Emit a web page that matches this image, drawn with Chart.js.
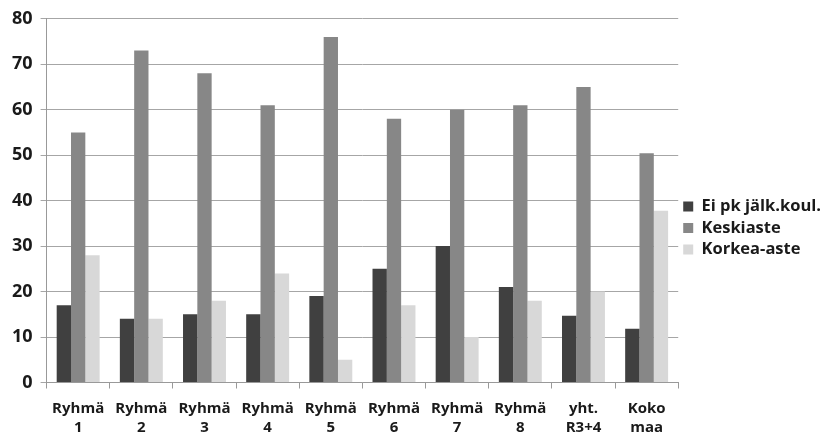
<!DOCTYPE html>
<html>
<head>
<meta charset="utf-8">
<script src="https://cdn.jsdelivr.net/npm/chart.js@4"></script>
<style>
html,body{margin:0;padding:0;background:#fff;}
#wrap{width:826px;height:435px;position:relative;}
</style>
</head>
<body>
<div id="wrap"><canvas id="c" width="826" height="435"></canvas></div>
<script>
const categories = [["Ryhmä","1"],["Ryhmä","2"],["Ryhmä","3"],["Ryhmä","4"],["Ryhmä","5"],["Ryhmä","6"],["Ryhmä","7"],["Ryhmä","8"],["yht.","R3+4"],["Koko","maa"]];
const seriesNames = ["Ei pk jälk.koul.","Keskiaste","Korkea-aste"];
const eiPk = [17,14,15,15,19,25,30,21,14.7,11.8];
const keskiaste = [55,73,68,61,76,58,60,61,65,50.4];
const korkea = [28,14,18,24,5,17,10,18,20,37.8];
const yTicks = [0,10,20,30,40,50,60,70,80];
const colors = ["#404040","#878787","#d8d8d8"];

const font = "'Open Sans', 'DejaVu Sans', sans-serif";
new Chart(document.getElementById('c'), {
  type: 'bar',
  data: {
    labels: categories,
    datasets: [
      {label: seriesNames[0], data: eiPk, backgroundColor: colors[0]},
      {label: seriesNames[1], data: keskiaste, backgroundColor: colors[1]},
      {label: seriesNames[2], data: korkea, backgroundColor: colors[2]}
    ]
  },
  options: {
    responsive: false,
    animation: false,
    devicePixelRatio: 1,
    layout: {padding: {top: 8, right: -5, left: 4, bottom: -13}},
    datasets: {bar: {categoryPercentage: 0.68, barPercentage: 1.0}},
    plugins: {
      legend: {
        position: 'right',
        labels: {
          boxWidth: 10, boxHeight: 10, padding: 5,
          color: '#1a1a1a',
          font: {family: font, size: 16.5, weight: 'bold'}
        }
      },
      tooltip: {enabled: false}
    },
    scales: {
      x: {
        grid: {display: true, drawOnChartArea: false, drawTicks: true, tickLength: 6, color: '#999', offset: true},
        border: {color: '#999', width: 1},
        ticks: {color: '#1a1a1a', font: {family: font, size: 15, weight: 'bold', lineHeight: 1.25}, maxRotation: 0, autoSkip: false, padding: 11}
      },
      y: {
        min: 0, max: 80,
        afterBuildTicks: (axis) => { axis.ticks = yTicks.map(v => ({value: v})); },
        grid: {color: '#a6a6a6', lineWidth: 1, tickLength: 6},
        border: {color: '#999', width: 1},
        ticks: {color: '#1a1a1a', font: {family: font, size: 18, weight: 'bold'}, padding: 8}
      }
    }
  }
});
</script>
</body>
</html>
